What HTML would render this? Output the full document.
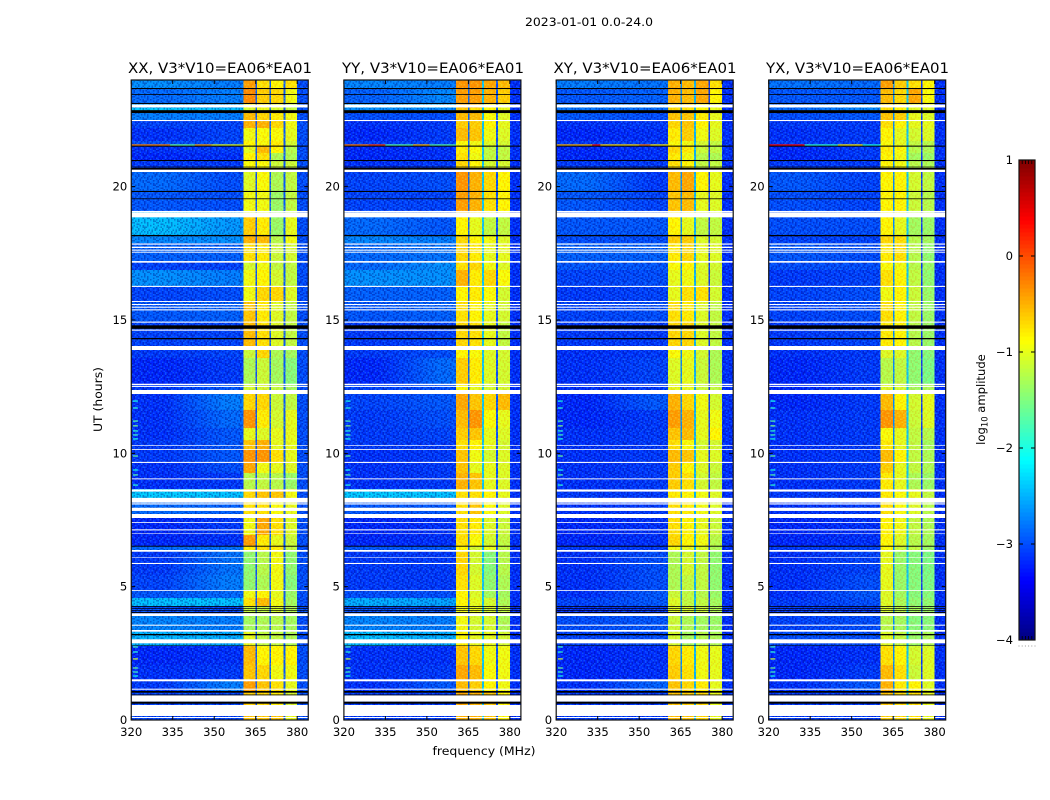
<!DOCTYPE html>
<html lang="en">
<head>
<meta charset="utf-8">
<title>2023-01-01 0.0-24.0</title>
<style>
html,body{margin:0;padding:0;background:#fff;width:1050px;height:800px;overflow:hidden}
svg{display:block}
text{font-family:"DejaVu Sans","Liberation Sans",sans-serif;fill:#000}
.tick{font-size:11.6px}
.ttl{font-size:14.6px}
</style>
</head>
<body>
<svg id="figure" xmlns="http://www.w3.org/2000/svg" width="1050" height="800" viewBox="0 0 1050 800">
<defs id="defs"></defs>
<rect x="0" y="0" width="1050" height="800" fill="#fff"/>
<text x="589" y="26" text-anchor="middle" class="tick" textLength="128" lengthAdjust="spacingAndGlyphs">2023-01-01 0.0-24.0</text>
<text x="220" y="73" text-anchor="middle" class="ttl" textLength="184" lengthAdjust="spacingAndGlyphs">XX, V3*V10=EA06*EA01</text>
<text x="433" y="73" text-anchor="middle" class="ttl" textLength="182" lengthAdjust="spacingAndGlyphs">YY, V3*V10=EA06*EA01</text>
<text x="645" y="73" text-anchor="middle" class="ttl" textLength="183" lengthAdjust="spacingAndGlyphs">XY, V3*V10=EA06*EA01</text>
<text x="857.5" y="73" text-anchor="middle" class="ttl" textLength="183" lengthAdjust="spacingAndGlyphs">YX, V3*V10=EA06*EA01</text>
<text x="484" y="755" text-anchor="middle" class="tick" textLength="103" lengthAdjust="spacingAndGlyphs">frequency (MHz)</text>
<text x="0" y="0" transform="translate(102,399.5) rotate(-90)" text-anchor="middle" class="tick" textLength="65" lengthAdjust="spacingAndGlyphs">UT (hours)</text>
<text x="0" y="0" transform="translate(985,399.5) rotate(-90)" text-anchor="middle" class="tick">log<tspan font-size="8.4" dy="2.5">10</tspan><tspan dy="-2.5"> amplitude</tspan></text>
<g id="panels"></g>
<g id="colorbar"></g>
</svg>
<script>
const polarizations = ['XX', 'YY', 'XY', 'YX'];
const panelLefts = [131.25, 343.9, 556.2, 768.7];
const freqTicks = [320, 335, 350, 365, 380];
const hourTicks = [0, 5, 10, 15, 20];
const colorbarTicks = [-4, -3, -2, -1, 0, 1];

// Lower edge (UT hours) of each time block; the last block ends at 24 h.
const blockStartHours = [0,.56,1.05,1.46,2.06,2.78,3.3,3.9,4.28,4.58,4.88,5.44,6.34,6.53,6.94,7.58,8.33,8.66,9.26,9.68,10.13,10.5,10.95,11.63,12.23,12.6,13.58,14.03,14.93,15.71,16.28,16.88,17.18,17.89,18.19,18.86,19.09,19.8,20.55,21,21.26,21.53,21.71,22.2,22.46,22.76,22.95,23.14,23.7];

// log10 amplitude per block: [low end of 320-360 MHz, high end of 320-360 MHz, sub-band 1, 2, 3, 4]
const levelsXX = [
[-3.05,-3.05,-.6,-.6,-.6,-1],[-3.05,-3.05,-.65,-.7,-.8,-1.1],[-3.1,-2.75,-.4,-.6,-.75,-1],[-3.15,-3.1,-.6,-.7,-.95,-.95],
[-3.2,-3.15,-.55,-.85,-.85,-.85],[-2.45,-2.5,-1,-1.2,-1.2,-1.3],[-2.7,-2.75,-1.35,-1.3,-1.25,-1.35],[-3,-3.05,-1.2,-1.2,-1.1,-1.3],
[-2.4,-2.4,-.75,-.55,-.95,-1.35],[-2.95,-2.85,-.95,-.85,-1,-1.4],[-3.05,-2.75,-1.45,-1.3,-.95,-1.5],[-3.1,-2.8,-1.45,-1.25,-.95,-1.45],
[-2.85,-2.8,-.8,-.75,-.8,-1.2],[-3.2,-3.15,-.4,-.8,-1,-1.15],[-3.2,-3.1,-.95,-.45,-.75,-1.05],[-2.85,-2.9,-.75,-.75,-.9,-1],
[-2.35,-2.4,-.7,-.6,-.6,-.95],[-3.15,-3.1,-1.25,-1.2,-1.25,-1.4],[-3.15,-3,-.45,-.95,-1,-1.05],[-3.1,-2.95,-.35,-.35,-.75,-1],
[-3.1,-2.95,-.6,-.5,-1,-1],[-3.15,-2.95,-1,-1.05,-1,-1],[-3.15,-2.85,-.35,-.8,-1.1,-1],[-3.15,-2.75,-.7,-.7,-1.15,-1.2],
[-3.1,-2.95,-1.1,-1.1,-1.2,-1.35],[-3.2,-3.1,-1.3,-1.15,-1.35,-1.5],[-3.1,-3.05,-1.15,-.7,-1.3,-1.35],[-3.05,-3.05,-.55,-.75,-1.05,-1.2],
[-2.95,-2.9,-.6,-.8,-1.05,-1.2],[-3.05,-3,-.95,-.7,-.7,-1.05],[-2.65,-2.75,-.95,-.85,-1.1,-1.2],[-3.05,-3.05,-1.1,-.95,-1.2,-1.2],
[-2.9,-2.9,-.75,-.8,-1.15,-1.1],[-2.7,-2.65,-.5,-.55,-1.25,-.95],[-2.4,-2.6,-.65,-.8,-1.4,-1],[-2.3,-2.5,-1,-1,-1.4,-1.2],
[-2.95,-3,-.95,-.95,-1.4,-1.2],[-2.85,-3,-1.05,-.9,-1.3,-1.2],[-3.1,-3.1,-.9,-.9,-1.15,-1.15],[-3.2,-3.15,-.85,-.75,-1.3,-1.3],
[-3.15,-3.1,-1,-.55,-.85,-1.25],[-3,-3,-.85,-.9,-.8,-1.1],[-3.15,-3.05,-.95,-.9,-.9,-1],[-3.05,-3.05,-.5,-.5,-.7,-.95],
[-2.75,-2.75,-.55,-.7,-.8,-.95],[-2.35,-2.4,-1.1,-1,-1.1,-1.2],[-2.55,-2.55,-.9,-.8,-1,-1.2],[-2.85,-2.75,-.3,-.65,-.7,-.95],[-2.65,-2.75,-.4,-.75,-.85,-.75]];
const levelsYY = [
[-3.1,-3.1,-.5,-.5,-.6,-.85],[-3.1,-3.1,-.45,-.5,-.6,-.85],[-3.15,-2.95,-.55,-.65,-.85,-.95],[-3.15,-3.1,-.45,-.55,-.9,-.95],
[-3.15,-3.15,-.6,-.7,-.95,-.95],[-2.4,-2.5,-.85,-1,-1,-1.1],[-2.7,-2.75,-.95,-1.1,-1.1,-1.3],[-3,-3,-.95,-1,-1.1,-1.2],
[-2.5,-2.55,-.85,-1,-1.1,-1.3],[-3,-3,-.85,-1.05,-1.35,-1.35],[-3.1,-3.1,-.75,-1.05,-1.45,-1.3],[-3.1,-3.1,-.7,-1.1,-1.5,-1.25],
[-2.95,-2.95,-.85,-1.1,-1,-1.2],[-3.2,-3.15,-.75,-.9,-1.1,-1.2],[-3.2,-3.15,-.75,-.8,-1.05,-1.15],[-2.95,-2.95,-.75,-.6,-.9,-1.05],
[-2.35,-2.4,-.75,-.75,-.85,-1],[-3.15,-3.1,-.5,-.6,-1,-1.05],[-3.15,-3.1,-.6,-1,-1,-1.05],[-3.15,-3.1,-.6,-.95,-1.1,-1.05],
[-3.1,-3.1,-.75,-.85,-1,-1.1],[-3.1,-3.05,-.65,-.6,-1,-1.05],[-3.1,-3,-.55,-.35,-.9,-1],[-3.05,-2.95,-.45,-.6,-.7,-.55],
[-3.05,-3,-.9,-1,-1.1,-1.1],[-3.2,-2.85,-.65,-.8,-1.05,-1.1],[-3.1,-3,-.85,-.9,-1.05,-1.1],[-3.1,-3.05,-.7,-.75,-1,-1.2],
[-2.95,-2.9,-.75,-.85,-1,-1.1],[-2.9,-2.9,-.85,-.8,-.9,-1.1],[-2.65,-2.65,-.5,-.8,-.7,-.9],[-2.85,-2.65,-.75,-.7,-.95,-1.05],
[-2.85,-2.8,-.7,-.8,-1,-1],[-2.7,-2.75,-.7,-.85,-.95,-1.05],[-2.85,-2.95,-.85,-1,-1.2,-1.2],[-2.9,-2.95,-.65,-.75,-.95,-1],
[-3.05,-3.05,-.4,-.5,-.75,-.85],[-3.05,-3,-.35,-.5,-.7,-.85],[-3.15,-3.1,-.7,-.85,-1.1,-1.1],[-3.2,-3.15,-.75,-.95,-1.2,-1.2],
[-3.2,-3.15,-.8,-.9,-1.2,-1.2],[-3.1,-3.05,-.9,-.95,-1.05,-1.1],[-3.2,-3.1,-.55,-.6,-.95,-1.05],[-3.15,-3.1,-.65,-.65,-.85,-1],
[-3,-3,-.55,-.55,-.9,-1.05],[-2.65,-2.7,-.6,-.75,-.85,-1],[-2.55,-2.45,-.5,-.5,-.9,-1],[-2.9,-2.7,-.4,-.4,-.5,-.65],[-2.7,-2.75,-.35,-.35,-.45,-.55]];
const levelsXY = [
[-3.1,-3.1,-.55,-.6,-.7,-1],[-3.1,-3.1,-.6,-.65,-.7,-1],[-3.15,-2.9,-.6,-.7,-.8,-1],[-3.2,-3.15,-.65,-.75,-.95,-1],
[-3.2,-3.15,-.7,-.8,-.95,-1],[-3.05,-3,-1.1,-1.35,-1.25,-1.3],[-3,-2.95,-1.15,-1.3,-1.35,-1.4],[-3.15,-3.1,-1.05,-1.1,-1.15,-1.3],
[-3.05,-2.95,-1.05,-1.2,-1.2,-1.35],[-3.15,-2.95,-1.15,-1.2,-1.25,-1.4],[-3.15,-3,-1.3,-1.2,-1.2,-1.45],[-3.15,-3,-1.3,-1.1,-1.2,-1.45],
[-3.1,-3.1,-.95,-1,-1.05,-1.3],[-3.2,-3.15,-.7,-.85,-.95,-1.25],[-3.2,-3.15,-.75,-.85,-1,-1.15],[-3.15,-3.1,-.75,-.8,-.95,-1.05],
[-3.1,-3.1,-.8,-.85,-.95,-1.05],[-3.15,-3.1,-.65,-.75,-1.1,-1.2],[-3.15,-3.1,-.65,-.85,-1.05,-1.15],[-3.15,-3.1,-.55,-.6,-1,-1.05],
[-3.15,-3.1,-.75,-.9,-1.1,-1.1],[-3.15,-3.1,-.6,-.55,-1,-.85],[-3.2,-3.1,-.4,-.5,-1,-.95],[-3.2,-2.95,-.5,-.7,-.95,-1.1],
[-3.15,-3.1,-1,-1,-1.15,-1.2],[-3.15,-3.05,-1.05,-1,-1.15,-1.3],[-3.15,-3.1,-.9,-.95,-1.1,-1.3],[-3.1,-3.1,-.7,-.7,-1.05,-1.2],
[-3.05,-3,-.75,-.8,-1.05,-1.2],[-3.1,-3.05,-1,-.75,-.75,-1.1],[-3.05,-3,-1,-.95,-1.05,-1.15],[-2.95,-2.95,-.9,-.85,-1.05,-1.1],
[-2.9,-2.9,-.8,-.7,-1,-1.05],[-3,-3,-.65,-.65,-1.05,-1.1],[-2.95,-2.95,-.85,-1,-1.2,-1.2],[-3,-2.95,-.8,-.9,-1.05,-1.1],
[-2.95,-3.05,-.6,-.55,-1,-1.05],[-2.85,-3.1,-.55,-.45,-.85,-1],[-3.1,-3.1,-.75,-.85,-1.2,-1.2],[-3.2,-3.15,-.8,-.95,-1.25,-1.3],
[-3.2,-3.15,-.7,-.8,-1.15,-1.2],[-3.1,-3.1,-.9,-.95,-1.1,-1.2],[-3.2,-3.15,-.8,-.65,-.95,-1.05],[-3.15,-3.1,-.7,-.6,-.85,-1],
[-2.95,-3,-.6,-.6,-.8,-1],[-2.8,-2.85,-.7,-.75,-.85,-1],[-2.75,-2.7,-.75,-.7,-.9,-1],[-2.95,-2.9,-.5,-.55,-.45,-.85],[-2.75,-2.8,-.5,-.55,-.45,-.75]];
const levelsYX = [
[-3.1,-3.1,-.65,-.7,-.75,-1],[-3.1,-3.1,-.6,-.7,-.75,-1],[-3.15,-2.95,-.5,-.8,-.85,-1.05],[-3.2,-3.1,-.55,-.75,-1.15,-1.05],
[-3.2,-3.15,-.75,-.85,-1.1,-1.05],[-3,-3,-1.05,-1.2,-1.4,-1.3],[-3.05,-3,-1.25,-1.35,-1.5,-1.5],[-3.1,-3.1,-1.1,-1.25,-1.35,-1.4],
[-3.1,-3,-1.05,-1.3,-1.45,-1.45],[-3.15,-2.95,-1.05,-1.35,-1.5,-1.5],[-3.15,-3,-1,-1.4,-1.5,-1.55],[-3.15,-3.05,-1,-1.4,-1.5,-1.55],
[-3.1,-3.05,-.9,-1.15,-1.2,-1.4],[-3.2,-3.15,-.85,-1.05,-1.25,-1.35],[-3.2,-3.15,-.85,-.95,-1.2,-1.3],[-3.15,-3.1,-.75,-.9,-1.05,-1.25],
[-3.1,-3.1,-.8,-.9,-1,-1.2],[-3.15,-3.1,-.8,-1,-1.3,-1.4],[-3.15,-3.1,-.65,-1,-1.2,-1.3],[-3.15,-3.1,-.55,-.85,-1.2,-1.3],
[-3.15,-3.1,-.8,-1,-1.2,-1.35],[-3.15,-3.1,-.9,-1,-1.2,-1.25],[-3.15,-3.1,-.35,-.5,-1.15,-1.05],[-3.2,-3.1,-.55,-.85,-1.1,-1],
[-3.2,-3.1,-1.05,-1.1,-1.35,-1.3],[-3.2,-3.1,-1.25,-1.2,-1.45,-1.55],[-3.15,-3.1,-1.05,-1.05,-1.45,-1.5],[-3.1,-3.05,-.8,-.85,-1.25,-1.4],
[-3.05,-3,-.75,-.85,-1.2,-1.4],[-3.05,-3,-.95,-.85,-1.15,-1.4],[-3.1,-3.05,-.75,-.85,-1.2,-1.45],[-3,-3,-.9,-.95,-1.25,-1.4],
[-2.95,-3,-.8,-.75,-1.25,-1.45],[-3.05,-3.05,-.7,-.75,-1.25,-1.35],[-3,-3,-.85,-1,-1.35,-1.4],[-3,-2.95,-.85,-.9,-1.25,-1.35],
[-3,-3.05,-.85,-.85,-1.15,-1.25],[-2.95,-3.05,-.85,-.85,-1.1,-1.2],[-3.1,-3.1,-.85,-.95,-1.25,-1.3],[-3.2,-3.1,-.85,-.95,-1.35,-1.4],
[-3.2,-3.1,-.8,-.9,-1.25,-1.3],[-3.1,-3.1,-.9,-1,-1.2,-1.25],[-3.15,-3.1,-.85,-1,-1.1,-1.05],[-3.1,-3.1,-.75,-.85,-1,-1],
[-3,-2.95,-.6,-.65,-1,-1.05],[-2.85,-2.7,-.75,-.85,-1.05,-1.05],[-2.85,-2.6,-.7,-.8,-1,-1],[-2.95,-2.95,-.55,-.7,-.45,-.9],[-2.8,-2.85,-.4,-.65,-.75,-.85]];

// log10 amplitude of the three narrow gaps between sub-bands, and of 380-384 MHz
const gapLevelsXX = [-3, -2.95, -2.95];
const gapLevelsYY = [-2.9, -2.4, -3];
const gapLevelsXY = [-2.7, -2.5, -3.1];
const gapLevelsYX = [-2.7, -2.4, -3.1];
const tailLevels = [-3, -3.15, -3.15, -3.15];

// Interference burst near 21.56 h: [start MHz, end MHz, log10 amplitude]
const rfiHour = 21.56;
const rfiXX = [[320,334,-.25],[334,343,-1.6],[343,349,-.4],[349,360.5,-1]];
const rfiYY = [[320,329,-.2],[329,335,.1],[335,345,-1.7],[345,351,-.5],[351,360.5,-1.7]];
const rfiXY = [[320,333,-.5],[333,336,.3],[336,350,-.7],[350,354,-.2],[354,360.5,-.8]];
const rfiYX = [[320,333,.35],[333,345,-1.9],[345,354,-.8],[354,360.5,-2]];

// Short spurs in the first channels
const spurHours = [11.96,11.7,11.21,11.03,10.84,10.69,10.54,9.9,9.375,9.19,8.81,2.74,2.55,2.29,1.95,1.8,1.65];
const spurLevels = [-2,-1.9,-1.7,-1.5,-1.9,-1.8,-2,-1.6,-2,-1.7,-1.9,-1.8,-1.9,-1.1,-1.6,-1.8,-2];

// Flagged (white) and blanked (black) time ranges, hours
const flaggedHours = [[.075,.1125],[.15,.5625],[.686,.926],[1.136,1.174],[1.451,1.526],[2.876,3.026],[3.311,3.375],[3.536,3.574],[3.9,4],[4.845,4.875],[5.85,5.89],[6.09,6.11],[6.31,6.375],[6.99,7.01],[7.11,7.15],[7.395,7.425],[7.575,7.725],[7.84,7.96],[8.08,8.125],[8.15,8.33],[8.565,8.645],[9.025,9.06],[9.64,9.68],[10.13,10.16],[10.275,10.3],[12.225,12.375],[12.49,12.53],[12.56,12.61],[13.875,14.025],[14.6,14.64],[14.9,14.94],[15.36,15.4],[15.46,15.5],[15.56,15.6],[15.675,15.71],[16.24,16.28],[17.15,17.21],[17.525,17.56],[17.6,17.64],[17.7,17.75],[17.825,17.87],[18.85,19.03],[19.04,19.09],[20.55,20.64],[22.46,22.5],[22.97,23.08]];
const blankedHours = [[.611,.686],[.926,.956],[1.024,1.0875],[2.79,2.81],[3.176,3.225],[4.016,4.05],[4.1,4.125],[4.174,4.2],[4.245,4.275],[6.5,6.535],[14.276,14.325],[14.67,14.8],[18.14,18.19],[19.53,19.56],[19.8,19.84],[20.64,20.7],[20.72,20.75],[20.96,21],[21.5,21.54],[22.76,22.84],[22.845,22.875],[23.1,23.14],[23.445,23.475],[23.66,23.7]];

// Fine-grain speckle tile: d = darker cell, l = lighter cell
const speckleRows = ['.d..l.d..dl..d.d','l.dd...l.d..l..d','d.l.d.d.d.l.d.l.','d...l.ddl.d.d..l','dld...l.dd.l..d.','..d.l.d..l.ddl..','l.d.d..l.d.l.d.d','ddl...d.d.ld.l.d','d..l.l.dd...d.l.','.l.d.d.dl.d.d.ld','d.d.ld...l.dl.d.','l.d.d.l.d.dl.d.l'];

const NS = 'http://www.w3.org/2000/svg';
const AXIS_TOP = 80, AXIS_BOTTOM = 720, AXIS_WIDTH = 177;
const FREQ_MIN = 320, FREQ_MAX = 384, HOUR_MAX = 24;
const COLOR_MIN = -4, COLOR_MAX = 1;

function yScale(h) { return AXIS_BOTTOM - (h / HOUR_MAX) * (AXIS_BOTTOM - AXIS_TOP); }
function xScale(left, f) { return left + (f - FREQ_MIN) / (FREQ_MAX - FREQ_MIN) * AXIS_WIDTH; }
function jet(level) {
  const t = Math.max(0, Math.min(1, (level - COLOR_MIN) / (COLOR_MAX - COLOR_MIN)));
  const ch = v => Math.round(255 * Math.max(0, Math.min(1, v)));
  return 'rgb(' + ch(1.5 - Math.abs(4 * t - 3)) + ',' + ch(1.5 - Math.abs(4 * t - 2)) + ',' + ch(1.5 - Math.abs(4 * t - 1)) + ')';
}
function make(tag, parent, props) {
  const node = document.createElementNS(NS, tag);
  for (const key in props) node.setAttribute(key, props[key]);
  parent.appendChild(node);
  return node;
}
const defsRoot = document.getElementById('defs');
function speckle(id, dark, light) {
  const cell = 1.5;
  const pat = make('pattern', defsRoot, {id: id, patternUnits: 'userSpaceOnUse', width: cell * speckleRows[0].length, height: cell * speckleRows.length});
  speckleRows.forEach((row, r) => {
    [...row].forEach((c, k) => {
      if (c === '.') return;
      make('rect', pat, {x: k * cell, y: r * cell, width: cell, height: cell, fill: c === 'd' ? dark : light});
    });
  });
}
speckle('speckle-cool', 'rgba(0,0,120,.34)', 'rgba(30,140,255,.4)');
speckle('speckle-warm', 'rgba(230,90,0,.16)', 'rgba(210,255,110,.24)');

const allLevels = [levelsXX, levelsYY, levelsXY, levelsYX];
const allGaps = [gapLevelsXX, gapLevelsYY, gapLevelsXY, gapLevelsYX];
const allRfi = [rfiXX, rfiYY, rfiXY, rfiYX];
// Column edges in MHz and what each column reads from the tables
const columnEdges = [320,360.5,364.9,365.5,369.9,370.6,375,375.7,380,384];
const columnKinds = ['bg','b0','g0','b1','g1','b2','g2','b3','t'];

const panelsRoot = document.getElementById('panels');
polarizations.forEach((pol, p) => {
  const left = panelLefts[p];
  const key = pol.toLowerCase();
  const g = make('g', panelsRoot, {});
  
  
  const cells = make('g', g, {'shape-rendering': 'crispEdges'});
  
  

  blockStartHours.forEach((start, b) => {
    const end = b + 1 < blockStartHours.length ? blockStartHours[b + 1] : HOUR_MAX;
    const row = allLevels[p][b];
    columnKinds.forEach((kind, c) => {
      let fill;
      if (kind === 'bg') {
        const gid = 'bg-' + key + '-' + b;
        const grad = make('linearGradient', defsRoot, {id: gid, x1: 0, x2: 1, y1: 0, y2: 0});
        make('stop', grad, {offset: '30%', 'stop-color': jet(row[0])});
        make('stop', grad, {offset: '85%', 'stop-color': jet(row[1])});
        fill = 'url(#' + gid + ')';
      } else if (kind[0] === 'b') {
        fill = jet(row[2 + Number(kind[1])]);
      } else if (kind[0] === 'g') {
        fill = jet(allGaps[p][Number(kind[1])]);
      } else {
        fill = jet(tailLevels[p]);
      }
      const x0 = xScale(left, columnEdges[c]);
      const x1 = xScale(left, columnEdges[c + 1]);
      const cell = make('rect', cells, {x: x0, y: yScale(end), width: x1 - x0, height: yScale(start) - yScale(end), fill: fill});
      
      
    });
  });

  const cool1 = make('rect', g, {x: xScale(left, 320), y: AXIS_TOP, width: xScale(left, 360.5) - xScale(left, 320), height: AXIS_BOTTOM - AXIS_TOP, fill: 'url(#speckle-cool)'});
  
  
  const cool2 = make('rect', g, {x: xScale(left, 380), y: AXIS_TOP, width: xScale(left, 384) - xScale(left, 380), height: AXIS_BOTTOM - AXIS_TOP, fill: 'url(#speckle-cool)'});
  
  
  const warm = make('rect', g, {x: xScale(left, 360.5), y: AXIS_TOP, width: xScale(left, 380) - xScale(left, 360.5), height: AXIS_BOTTOM - AXIS_TOP, fill: 'url(#speckle-warm)'});
  
  

  allRfi[p].forEach(seg => {
    const r = make('rect', g, {x: xScale(left, seg[0]), y: yScale(rfiHour) - .7, width: xScale(left, seg[1]) - xScale(left, seg[0]), height: 1.4, fill: jet(seg[2])});
    
    
  });
  spurHours.forEach((h, i) => {
    const s = make('rect', g, {x: xScale(left, 320.6), y: yScale(h) - .6, width: xScale(left, 322.4) - xScale(left, 320.6), height: 1.2, fill: jet(spurLevels[i])});
    
    
  });

  flaggedHours.forEach(range => {
    const w = make('rect', g, {x: left, y: yScale(range[1]), width: AXIS_WIDTH, height: yScale(range[0]) - yScale(range[1]), fill: '#fff'});
    
    
  });
  blankedHours.forEach(range => {
    const k = make('rect', g, {x: left, y: yScale(range[1]), width: AXIS_WIDTH, height: yScale(range[0]) - yScale(range[1]), fill: '#000'});
    
    
  });

  freqTicks.forEach(f => {
    const x = xScale(left, f);
    const tb = make('path', g, {d: 'M' + x + ' ' + AXIS_BOTTOM + 'v-4M' + x + ' ' + AXIS_TOP + 'v4', stroke: '#000', 'stroke-width': 1, fill: 'none'});
    
    
    const label = make('text', g, {x: x, y: 736, 'text-anchor': 'middle', class: 'tick'});
    
    
    label.textContent = String(f);
  });
  hourTicks.forEach(h => {
    const y = yScale(h);
    const tm = make('path', g, {d: 'M' + left + ' ' + y + 'h4M' + (left + AXIS_WIDTH) + ' ' + y + 'h-4', stroke: '#000', 'stroke-width': 1, fill: 'none'});
    
    
    const label = make('text', g, {x: left - 4, y: y + 4, 'text-anchor': 'end', class: 'tick'});
    
    
    label.textContent = String(h);
  });
  const frame = make('rect', g, {x: left, y: AXIS_TOP, width: AXIS_WIDTH, height: AXIS_BOTTOM - AXIS_TOP, fill: 'none', stroke: '#111', 'stroke-width': 1.2});
  
  
});

// Colorbar
const CB_LEFT = 1019, CB_WIDTH = 16, CB_TOP = 160, CB_BOTTOM = 640, CB_STEPS = 120;
function cbY(level) { return CB_BOTTOM - (level - COLOR_MIN) / (COLOR_MAX - COLOR_MIN) * (CB_BOTTOM - CB_TOP); }
const cb = document.getElementById('colorbar');
const ramp = make('g', cb, {'shape-rendering': 'crispEdges'});


for (let i = 0; i < CB_STEPS; i++) {
  const lo = COLOR_MIN + (COLOR_MAX - COLOR_MIN) * i / CB_STEPS;
  const hi = COLOR_MIN + (COLOR_MAX - COLOR_MIN) * (i + 1) / CB_STEPS;
  const seg = make('rect', ramp, {x: CB_LEFT, y: cbY(hi), width: CB_WIDTH, height: cbY(lo) - cbY(hi) + .5, fill: jet((lo + hi) / 2)});
  
  
}
colorbarTicks.forEach(v => {
  const y = cbY(v);
  const mark = make('path', cb, {d: 'M' + CB_LEFT + ' ' + y + 'h4M' + (CB_LEFT + CB_WIDTH) + ' ' + y + 'h-4', stroke: '#000', 'stroke-width': 1, fill: 'none'});
  
  
  const label = make('text', cb, {x: 1013, y: y + 4, 'text-anchor': 'end', class: 'tick'});
  
  
  label.textContent = String(v).replace('-', '\u2212');
});
[0, 1, 2, 3, 4, 5].forEach(k => {
  const x = CB_LEFT + k * CB_WIDTH / 5;
  const m = make('path', cb, {d: 'M' + x + ' ' + CB_TOP + 'v4M' + x + ' ' + CB_BOTTOM + 'v-4', stroke: '#000', 'stroke-width': .8, fill: 'none'});
  
  
  const dot = make('rect', cb, {x: x - .5, y: 645.5, width: 1, height: 1, fill: '#999'});
  
  
});
const cbFrame = make('rect', cb, {x: CB_LEFT, y: CB_TOP, width: CB_WIDTH, height: CB_BOTTOM - CB_TOP, fill: 'none', stroke: '#111', 'stroke-width': 1.2});


</script>
</body>
</html>
